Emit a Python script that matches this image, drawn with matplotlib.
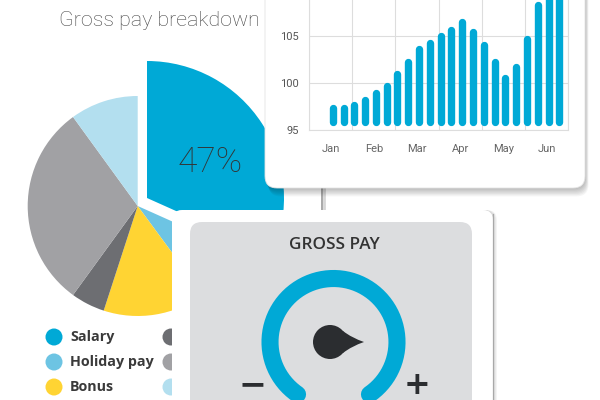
import numpy as np
import matplotlib
matplotlib.use("Agg")
import matplotlib.pyplot as plt
from matplotlib.patches import FancyBboxPatch, Circle, PathPatch
from matplotlib.path import Path

# ---------------- data ----------------
pie_labels = ["Salary", "Holiday pay", "Bonus", "Overtime", "Commission", "Other"]
pie_values = [31.7, 8.2, 15.1, 5.0, 30.0, 10.0]
pie_colors = ["#00A9D6", "#6DC4E3", "#FFD433", "#6D6E72", "#A1A1A4", "#B3DFEF"]
salary_label = "47%"

months = ["Jan", "Feb", "Mar", "Apr", "May", "Jun"]
bar_values = [97.7, 97.7, 98.1, 98.55, 99.3, 100.1, 101.3, 102.6, 104.0, 104.6,
              105.4, 106.0, 106.9, 105.85, 104.4, 102.6, 100.95, 102.05, 105.1,
              108.65, 110.8, 111.0]
bar_base = 95.45
y_ticks = [95, 100, 105]

gauge_title = "GROSS PAY"
gauge_angle = 0  # knob pointer direction, degrees

# ---------------- figure ----------------
fig = plt.figure(figsize=(6, 4), dpi=100)
bg = fig.add_axes([0, 0, 1, 1])


def Y(y):
    return 400 - y


FONT_LIGHT = dict(family=["Roboto", "DejaVu Sans"], weight="light")
FONT_BOLD = dict(family=["Open Sans", "DejaVu Sans"], weight="bold")

# title
bg.text(159, Y(20), "Gross pay breakdown", ha="center", va="center",
        fontsize=15.4, color="#444444", zorder=3, **FONT_LIGHT)

# pie
wedges, _ = bg.pie(pie_values, colors=pie_colors, startangle=90, counterclock=False,
                   center=(137.7, Y(206)), radius=110,
                   wedgeprops=dict(linewidth=0, zorder=1))
wedges[0].set_center((147, Y(198)))
wedges[0].set_radius(137)

bg.text(210, Y(162), salary_label, ha="center", va="center", fontsize=25.5,
        color="#333333", zorder=3, **FONT_LIGHT)

# legend
for i, (lab, col) in enumerate(zip(pie_labels, pie_colors)):
    colx = 54 if i < 3 else 171
    yy = 337 + 25 * (i % 3)
    bg.add_patch(Circle((colx, Y(yy)), 8.5, fc=col, ec="none", zorder=2))
    bg.text(colx + 16, Y(yy), lab, ha="left", va="center", fontsize=10.3,
            color="#3a3a3a", zorder=2, **FONT_BOLD)

# faint edge of card behind
bg.plot([322, 322], [Y(188), Y(212)], color="#9a9a9a", lw=1.2, zorder=2)
bg.plot([324, 324], [Y(188), Y(212)], color="#d6d6d6", lw=2, zorder=2)

# bar card with shadow
for k in range(1, 8):
    bg.add_patch(FancyBboxPatch((265 + 0.5 * k, Y(188) - 1.2 * k), 320, 260,
                                boxstyle="round,pad=0,rounding_size=12",
                                fc="black", ec="none", alpha=0.04, zorder=4))
bg.add_patch(FancyBboxPatch((265, Y(188)), 320, 260,
                            boxstyle="round,pad=0,rounding_size=12",
                            fc="white", ec="#e4e4e4", lw=0.6, zorder=5))

# gauge card
for k in range(1, 6):
    bg.add_patch(FancyBboxPatch((172 + 0.8 * k, Y(420)), 321, 210,
                                boxstyle="round,pad=0,rounding_size=10",
                                fc="black", ec="none", alpha=0.035, zorder=5.5))
bg.add_patch(FancyBboxPatch((172, Y(420)), 321, 210,
                            boxstyle="round,pad=0,rounding_size=10",
                            fc="white", ec="none", zorder=6))
bg.plot([493, 493], [Y(214), Y(400)], color="#a8a8a8", lw=0.9, zorder=6.5)
bg.add_patch(FancyBboxPatch((190, Y(420)), 282, 198,
                            boxstyle="round,pad=0,rounding_size=12",
                            fc="#DCDDDF", ec="none", zorder=7))
bg.text(334, Y(245), gauge_title, ha="center", va="center", fontsize=12.3,
        color="#333333", zorder=8, family=["Open Sans", "DejaVu Sans"], weight="semibold")

# gauge ring
gcx, gcy, gr = 333.5, Y(342), 63.5
th = np.radians(np.linspace(-55.5, 235.5, 300))
bg.plot(gcx + gr * np.cos(th), gcy + gr * np.sin(th), color="#00A9D6", lw=12.3,
        solid_capstyle="round", zorder=8)

# knob
kx, ky = 330, Y(342)
bg.add_patch(Circle((kx, ky), 17, fc="#2B2D30", ec="none", zorder=9))
a = np.radians(gauge_angle)
rot = np.array([[np.cos(a), -np.sin(a)], [np.sin(a), np.cos(a)]])
pts = np.array([[13, 11], [22, 4], [34, 0], [22, -4], [13, -11], [13, 11]])
pts = pts @ rot.T + [kx, ky]
codes = [Path.MOVETO, Path.CURVE3, Path.CURVE3, Path.CURVE3, Path.CURVE3, Path.CLOSEPOLY]
bg.add_patch(PathPatch(Path(pts, codes), fc="#2B2D30", ec="none", zorder=9))

bg.text(252, Y(385), "\u2212", ha="center", va="center", fontsize=24, weight="bold",
        color="#2B2D30", zorder=9)
bg.text(417, Y(385), "+", ha="center", va="center", fontsize=23, weight="bold",
        color="#2B2D30", zorder=9)

bg.set_xlim(0, 600)
bg.set_ylim(0, 400)
bg.set_aspect("auto")
bg.axis("off")

# ---------------- bar chart ----------------
px_per_unit = 9.4
ax = fig.add_axes([309 / 600, (400 - 130) / 400, 259 / 600, 16 * px_per_unit / 400])
ax.set_zorder(2)
ax.patch.set_alpha(0)
x = 0.55 + 0.25 * np.arange(len(bar_values))
cap = 3.65 / px_per_unit
ax.vlines(x, bar_base + cap, np.array(bar_values) - cap, colors="#00A9D6",
          linewidth=5.3, capstyle="round", zorder=3)
ax.set_xlim(0, 6)
ax.set_ylim(95, 111)
ax.set_xticks(np.arange(0, 7))
ax.set_xticklabels([])
ax.set_xticks(np.arange(0.5, 6, 1), minor=True)
ax.set_xticklabels(months, minor=True, fontsize=8, color="#666666",
                   family=["Roboto", "DejaVu Sans"])
ax.set_yticks(list(y_ticks) + [110])
ax.set_yticklabels([str(v) for v in y_ticks] + [""], fontsize=8, color="#555555",
                   family=["Roboto", "DejaVu Sans"])
ax.tick_params(which="both", length=0)
ax.tick_params(axis="x", which="minor", pad=10)
ax.tick_params(axis="y", pad=7)
ax.grid(which="major", color="#dddddd", lw=0.8, zorder=0)
ax.spines["top"].set_visible(False)
for s in ["left", "right", "bottom"]:
    ax.spines[s].set_color("#dddddd")
    ax.spines[s].set_linewidth(0.8)

fig.savefig("out.png", dpi=100)
